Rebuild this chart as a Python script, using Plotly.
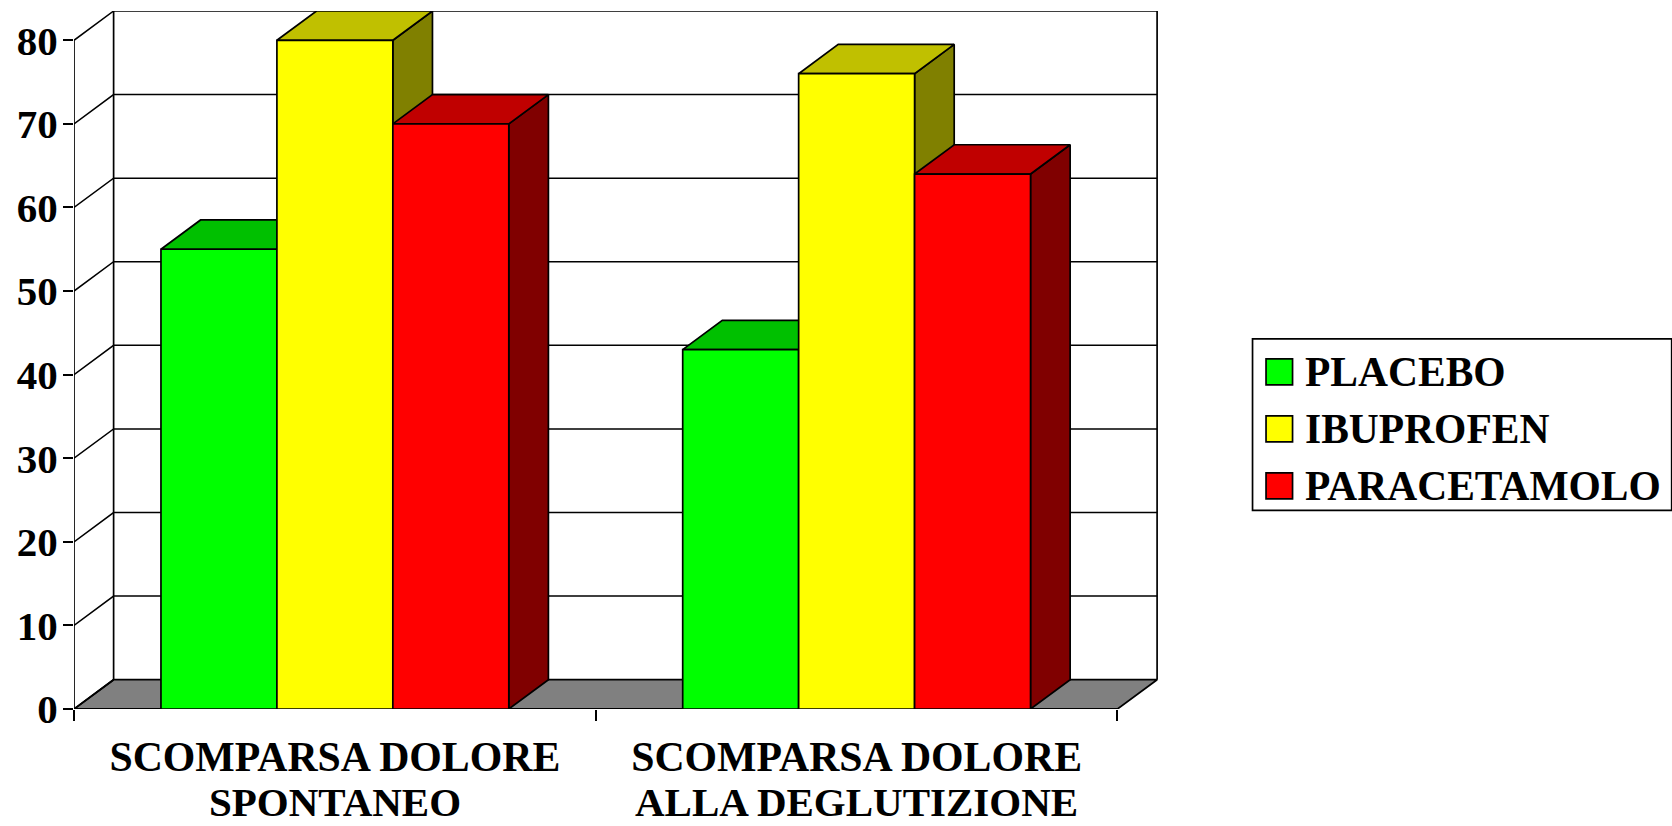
import plotly.graph_objects as go

# Chart data
category_first_line = ["SCOMPARSA DOLORE", "SCOMPARSA DOLORE"]
category_second_line = ["SPONTANEO", "ALLA DEGLUTIZIONE"]
series_names = ["PLACEBO", "IBUPROFEN", "PARACETAMOLO"]
placebo = [55, 43]
ibuprofen = [80, 76]
paracetamolo = [70, 64]
y_ticks = [0, 10, 20, 30, 40, 50, 60, 70, 80]

series_values = [placebo, ibuprofen, paracetamolo]
front_colors = ["#00FF00", "#FFFF00", "#FF0000"]
top_colors = ["#00C000", "#C0C000", "#C00000"]
side_colors = ["#008000", "#808000", "#800000"]

# Plot frame in page pixels
W, H = 1672, 826
LEFT, RIGHT, TOP, BOTTOM = 74.4, 1158.0, 11.0, 709.3
UNIT_PX = (1117.5 - 74.4) / 2       # one category along x
VALUE_PX = (709.3 - 40.3) / 80      # one value unit along y
DX = 39.6 / UNIT_PX                 # depth of the 3D box in x units
DY = 29.3 / VALUE_PX                # depth of the 3D box in value units
X_MAX = (RIGHT - LEFT) / UNIT_PX
Y_MAX = (BOTTOM - TOP) / VALUE_PX

BAR_GAP = 1 / 3
BAR_W = (1 - BAR_GAP) / 3
LINE = 1.7
FONT = "Liberation Serif"
n_cat = len(category_first_line)
centers = [c + 0.5 for c in range(n_cat)]


def paper_x(px):
    return (px - LEFT) / (RIGHT - LEFT)


def paper_y(py):
    return 1 - (py - TOP) / (BOTTOM - TOP)


fig = go.Figure()


def polygon(xs, ys, fill):
    fig.add_trace(go.Scatter(
        x=xs + xs[:1], y=ys + ys[:1], mode="lines", fill="toself", fillcolor=fill,
        line=dict(color="black", width=LINE), cliponaxis=False,
        showlegend=False, hoverinfo="skip",
    ))


def segment(xs, ys, width=LINE):
    fig.add_trace(go.Scatter(
        x=xs, y=ys, mode="lines", line=dict(color="black", width=width),
        cliponaxis=False, showlegend=False, hoverinfo="skip",
    ))


# Floor, walls and gridlines of the box
polygon([0, 2, 2 + DX, DX], [0, 0, DY, DY], "#808080")
for v in y_ticks[1:]:
    segment([0, DX, 2 + DX], [v, v + DY, v + DY], 1.5)
segment([0, DX], [0, DY])
segment([DX, DX], [DY, y_ticks[-1] + DY])
segment([2 + DX, 2 + DX], [DY, y_ticks[-1] + DY])
segment([0, 0], [0, y_ticks[-1]])
segment([0, 2], [0, 0], 2)

# Top and side faces, painted from left to right
for c in range(n_cat):
    for s, values in enumerate(series_values):
        x0 = c + 0.5 + (s - 1.5) * BAR_W
        x1 = x0 + BAR_W
        v = values[c]
        polygon([x1, x1 + DX, x1 + DX, x1], [0, DY, v + DY, v], side_colors[s])
        polygon([x0, x0 + DX, x1 + DX, x1], [v, v + DY, v + DY, v], top_colors[s])

# Front faces sit on an overlaid pair of axes so they cover the faces behind them
for s, values in enumerate(series_values):
    fig.add_trace(go.Bar(
        x=centers, y=values, name=series_names[s],
        marker=dict(color=front_colors[s], line=dict(color="black", width=LINE)),
        xaxis="x2", yaxis="y2", cliponaxis=False, showlegend=False,
    ))

# Legend box with swatches and labels
shapes = [dict(
    type="rect", xref="paper", yref="paper",
    x0=paper_x(1252.5), x1=paper_x(1671.5), y0=paper_y(510.5), y1=paper_y(339),
    fillcolor="white", line=dict(color="black", width=LINE),
)]
annotations = []
for s, name in enumerate(series_names):
    cy = 372 + s * 57
    shapes.append(dict(
        type="rect", xref="paper", yref="paper",
        x0=paper_x(1266), x1=paper_x(1292.5), y0=paper_y(cy + 13), y1=paper_y(cy - 13),
        fillcolor=front_colors[s], line=dict(color="black", width=LINE),
    ))
    annotations.append(dict(
        xref="paper", yref="paper", x=paper_x(1304), y=paper_y(cy),
        xanchor="left", yanchor="middle", text=name, showarrow=False,
        borderpad=0,
        font=dict(family=FONT, size=41.5, weight=700, color="black"),
    ))

# Second line of each category label, placed closer than a default line break
for c, text in zip(centers, category_second_line):
    annotations.append(dict(
        xref="x", yref="paper", x=c, y=paper_y(802),
        xanchor="center", yanchor="middle", text=text, showarrow=False,
        borderpad=0, yshift=0,
        font=dict(family=FONT, size=41, weight=700, color="black"),
    ))

fig.update_layout(
    width=W, height=H, autosize=False,
    margin=dict(l=LEFT, r=W - RIGHT, t=TOP, b=H - BOTTOM, pad=0),
    paper_bgcolor="white", plot_bgcolor="white",
    barmode="group", bargap=BAR_GAP, bargroupgap=0,
    showlegend=False, shapes=shapes, annotations=annotations,
    xaxis=dict(
        range=[0, X_MAX], showgrid=False, zeroline=False, showline=False,
        automargin=False,
        tickmode="array", tickvals=centers,
        ticktext=category_first_line, ticks="", ticklabelstandoff=19,
        tickfont=dict(family=FONT, size=41.8, weight=700, color="black"),
        minor=dict(tickmode="array", tickvals=[0, 1, 2], ticks="outside",
                   ticklen=11, tickwidth=LINE, tickcolor="black", showgrid=False),
    ),
    yaxis=dict(
        range=[0, Y_MAX], showgrid=False, zeroline=False, showline=False,
        automargin=False,
        tickmode="array", tickvals=y_ticks, ticktext=[str(v) for v in y_ticks],
        ticks="outside", ticklen=10, tickwidth=LINE, tickcolor="black",
        ticklabelstandoff=-3,
        tickfont=dict(family=FONT, size=41, weight=700, color="black"),
    ),
    xaxis2=dict(range=[0, X_MAX], overlaying="x", visible=False, automargin=False),
    yaxis2=dict(range=[0, Y_MAX], overlaying="y", visible=False, automargin=False),
)

fig.write_html("out.html")
